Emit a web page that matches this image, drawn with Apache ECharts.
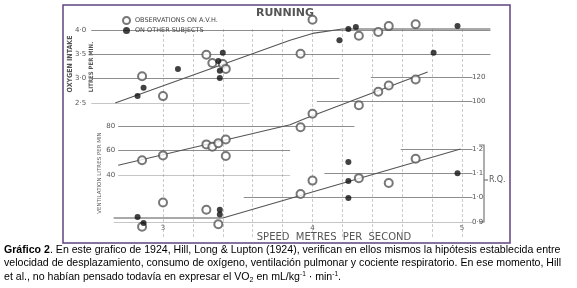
<!DOCTYPE html>
<html><head><meta charset="utf-8">
<script src="https://cdn.jsdelivr.net/npm/echarts@6/dist/echarts.min.js"></script>
<style>html,body{margin:0;padding:0;background:#fff}#c{width:577px;height:288px}</style>
</head><body><div id="c"></div>
<script>
// ---- data (speed in m/s) ----
const speedLabels = [3, 4, 5];
const speedGridLines = [3.0, 3.2, 3.4, 3.6, 3.8, 4.0, 4.2, 4.4, 4.6, 4.8, 5.0];

// Oxygen intake (litres per min)
const avhO2 = [[3.29,3.49],[3.33,3.32],[3.40,3.30],[3.42,3.20],[2.86,3.05],[3.00,2.64],[4.00,4.21],[4.31,3.88],[4.44,3.96],[4.51,4.08],[4.69,4.12],[3.92,3.51]];
const otherO2 = [[3.40,3.53],[3.37,3.36],[3.38,3.16],[3.38,3.01],[3.10,3.20],[2.87,2.81],[2.83,2.64],[4.24,4.02],[4.29,4.06],[4.18,3.79],[4.97,4.08],[4.81,3.53]];
const fitO2 = [[2.68,2.50],[3.85,3.79],[4.00,3.93],[4.20,4.02],[5.19,4.02]];
const o2GridLines = [[4.0,2.52,5.19],[3.5,2.52,5.19],[3.0,2.52,4.18],[2.5,2.52,3.58]];

// Ventilation (litres per min)
const avhVent = [[2.86,52],[3.00,56],[3.29,65],[3.33,63],[3.37,66],[3.42,69],[3.42,55.5],[3.92,79],[4.00,90],[4.31,97],[4.44,108],[4.51,113],[4.69,118]];
const fitVent = [[2.70,48],[3.85,81],[3.96,86.5],[4.77,124]];
const ventGridLines = [[120,4.39,5.07],[100,4.03,5.07],[80,2.70,4.28],[60,2.70,3.85],[40,2.70,3.85]];

// Respiratory quotient
const avhRQ = [[3.00,0.98],[2.86,0.88],[3.29,0.95],[3.37,0.89],[4.00,1.07],[4.31,1.08],[4.51,1.06],[4.69,1.16],[3.92,1.015]];
const otherRQ = [[2.83,0.92],[2.87,0.895],[3.38,0.95],[3.38,0.93],[4.24,1.146],[4.24,1.068],[4.24,0.998],[4.97,1.10]];
const fitRQ = [[2.67,0.916],[3.40,0.916],[4.99,1.2]];
const rqGridLines = [[1.2,4.59,5.07],[1.1,4.08,5.07],[1.0,3.54,5.07],[0.9,2.67,5.07]];

const NAME_AVH = 'OBSERVATIONS ON A.V.H.';
const NAME_OTHER = 'ON OTHER SUBJECTS';

// ---- layout ----
const X_MIN = 2.5, X_MAX = 5.3;
const gl = 88.25, gr = 70.15;
const dot = v => (+v).toFixed(1).replace('.', '\u00B7');
const labelStyle = {fontSize: 7, color: '#555', fontFamily: 'DejaVu Sans'};
const gridLineStyle = {color: '#7a7a7a', width: 1, opacity: 0.85};
const fitStyle = {color: '#555', width: 1.1};

function xAx(i, showLabels) {
  return {type: 'value', gridIndex: i, min: X_MIN, max: X_MAX,
    axisLine: {show: false}, axisTick: {show: false}, splitLine: {show: false},
    axisLabel: showLabels ? Object.assign({customValues: speedLabels, margin: 3}, labelStyle) : {show: false}};
}
function hSeg(arr, xi, yi) {
  return {type: 'lines', coordinateSystem: 'cartesian2d', xAxisIndex: xi, yAxisIndex: yi, silent: true,
    lineStyle: gridLineStyle, z: 1,
    data: arr.map(d => ({coords: [[d[1], d[0]], [d[2], d[0]]]}))};
}
function scat(name, data, xi, yi, filled) {
  return {type: 'scatter', name, data, xAxisIndex: xi, yAxisIndex: yi, clip: false, z: 5,
    symbol: filled ? 'circle' : 'emptyCircle', symbolSize: filled ? 6 : 8,
    itemStyle: filled ? {color: '#111'} : {color: '#555', borderWidth: 1.4}};
}
function fit(data, xi, yi) {
  return {type: 'line', data, xAxisIndex: xi, yAxisIndex: yi, symbol: 'none', silent: true,
    lineStyle: fitStyle, z: 3, legendHoverLink: false};
}

const chart = echarts.init(document.getElementById('c'), null, {renderer: 'canvas'});
chart.setOption({
  backgroundColor: '#fff',
  animation: false,
  legend: {
    orient: 'vertical', left: 117, top: 11, itemWidth: 7, itemHeight: 7, itemGap: 2,
    textStyle: {fontSize: 6.5, color: '#444', fontFamily: 'DejaVu Sans'},
    data: [{name: NAME_AVH, icon: 'emptyCircle'}, {name: NAME_OTHER, icon: 'circle'}],
    selectedMode: false
  },
  grid: [
    {left: gl, right: gr, top: 15.42, bottom: 185.1, outerBoundsMode: 'none'},
    {left: gl, right: gr, top: 64.75, bottom: 113, outerBoundsMode: 'none'},
    {left: gl, right: gr, top: 124.7, bottom: 66.1, outerBoundsMode: 'none'},
    {left: gl, right: gr, top: 28, bottom: 51, outerBoundsMode: 'none'}
  ],
  xAxis: [xAx(0, false), xAx(1, false), xAx(2, true), xAx(3, false)],
  yAxis: [
    {type: 'value', gridIndex: 0, min: 2.5, max: 4.3, interval: 0.5,
      axisLine: {show: false}, axisTick: {show: false}, splitLine: {show: false},
      axisLabel: Object.assign({margin: 2, showMaxLabel: false, formatter: v => v <= 4.01 ? dot(v) : ''}, labelStyle)},
    {type: 'value', gridIndex: 1, min: 40, max: 130, interval: 20, offset: -29,
      axisLine: {show: false}, axisTick: {show: false}, splitLine: {show: false},
      axisLabel: Object.assign({margin: 2, showMaxLabel: false, formatter: v => v <= 80 ? String(v) : ''}, labelStyle)},
    {type: 'value', gridIndex: 1, position: 'right', min: 40, max: 130, interval: 20, offset: -36.85,
      axisLine: {show: false}, axisTick: {show: false}, splitLine: {show: false},
      axisLabel: Object.assign({margin: 2, showMaxLabel: false, formatter: v => (v >= 100 && v <= 120) ? String(v) : ''}, labelStyle)},
    {type: 'value', gridIndex: 2, position: 'right', min: 0.9, max: 1.3, interval: 0.1, offset: -36.85,
      axisLine: {show: false}, axisTick: {show: false}, splitLine: {show: false},
      axisLabel: Object.assign({margin: 2, showMaxLabel: false, formatter: v => v <= 1.201 ? dot(v) : ''}, labelStyle)},
    {type: 'value', gridIndex: 3, min: 0, max: 1, show: false}
  ],
  series: [
    {type: 'lines', coordinateSystem: 'cartesian2d', xAxisIndex: 3, yAxisIndex: 4, silent: true, z: 1,
      lineStyle: {color: '#9a9a9a', width: 1, type: [3, 2]},
      data: speedGridLines.map(s => ({coords: [[s, 0], [s, 1]]}))},
    hSeg(o2GridLines, 0, 0),
    hSeg(ventGridLines, 1, 1),
    hSeg(rqGridLines, 2, 3),
    fit(fitO2, 0, 0),
    fit(fitVent, 1, 1),
    fit(fitRQ, 2, 3),
    scat(NAME_AVH, avhO2, 0, 0, false),
    scat(NAME_OTHER, otherO2, 0, 0, true),
    scat(NAME_AVH, avhVent, 1, 1, false),
    scat(NAME_AVH, avhRQ, 2, 3, false),
    scat(NAME_OTHER, otherRQ, 2, 3, true)
  ],
  graphic: [
    {type: 'rect', shape: {x: 63, y: 5, width: 447, height: 238}, silent: true,
      style: {fill: 'none', stroke: '#5e4480', lineWidth: 1.5}},
    {type: 'text', x: 285, y: 13, silent: true,
      style: {text: 'RUNNING', fontSize: 11, fontWeight: 'bold', fill: '#555', fontFamily: 'DejaVu Sans', align: 'center', verticalAlign: 'middle'}},
    {type: 'text', x: 70, y: 64, rotation: Math.PI / 2, silent: true,
      style: {text: 'OXYGEN INTAKE', fontSize: 7, fontWeight: 'bold', fill: '#555', fontFamily: 'DejaVu Sans Condensed', align: 'center', verticalAlign: 'middle'}},
    {type: 'text', x: 91, y: 67, rotation: Math.PI / 2, silent: true,
      style: {text: 'LITRES PER MIN.', fontSize: 6, fontWeight: 'bold', fill: '#555', fontFamily: 'DejaVu Sans Condensed', align: 'center', verticalAlign: 'middle'}},
    {type: 'text', x: 100, y: 173, rotation: Math.PI / 2, silent: true,
      style: {text: 'VENTILATION LITRES PER MIN', fontSize: 5.5, fill: '#666', fontFamily: 'DejaVu Sans', align: 'center', verticalAlign: 'middle'}},
    {type: 'text', x: 334, y: 237, silent: true,
      style: {text: 'SPEED  METRES  PER  SECOND', fontSize: 10, fill: '#555', fontFamily: 'DejaVu Sans', align: 'center', verticalAlign: 'middle'}},
    {type: 'polyline', silent: true, shape: {points: [[479,145],[484,145],[484,222],[479,222]]},
      style: {stroke: '#777', lineWidth: 1.2, fill: 'none'}},
    {type: 'polyline', silent: true, shape: {points: [[484,180],[488,180]]},
      style: {stroke: '#777', lineWidth: 1.2, fill: 'none'}},
    {type: 'text', x: 489, y: 180, silent: true,
      style: {text: 'R.Q.', fontSize: 8, fill: '#555', fontFamily: 'DejaVu Sans', align: 'left', verticalAlign: 'middle'}},
    {type: 'text', x: 4, y: 250, silent: true,
      style: {text: '{b|Gráfico 2}. En este grafico de 1924, Hill, Long & Lupton (1924), verifican en ellos mismos la hipótesis establecida entre',
        fontSize: 10.6, fill: '#000', fontFamily: 'Liberation Sans', verticalAlign: 'middle',
        rich: {b: {fontSize: 10.6, fontWeight: 'bold', fontFamily: 'Liberation Sans', fill: '#000'}}}},
    {type: 'text', x: 4, y: 263.5, silent: true,
      style: {text: 'velocidad de desplazamiento, consumo de oxígeno, ventilación pulmonar y cociente respiratorio. En ese momento, Hill',
        fontSize: 10.6, fill: '#000', fontFamily: 'Liberation Sans', verticalAlign: 'middle'}},
    {type: 'text', x: 4, y: 277, silent: true,
      style: {text: 'et al., no habían pensado todavía en expresar el VO{sub|2} en mL/kg{sup|-1} · min{sup|-1}.',
        fontSize: 10.6, fill: '#000', fontFamily: 'Liberation Sans', verticalAlign: 'middle', lineHeight: 13,
        rich: {sub: {fontSize: 7, fontFamily: 'Liberation Sans', fill: '#000', verticalAlign: 'bottom', lineHeight: 13},
               sup: {fontSize: 6.5, fontFamily: 'Liberation Sans', fill: '#000', verticalAlign: 'top', lineHeight: 13}}}}
  ]
});
</script>
</body></html>
